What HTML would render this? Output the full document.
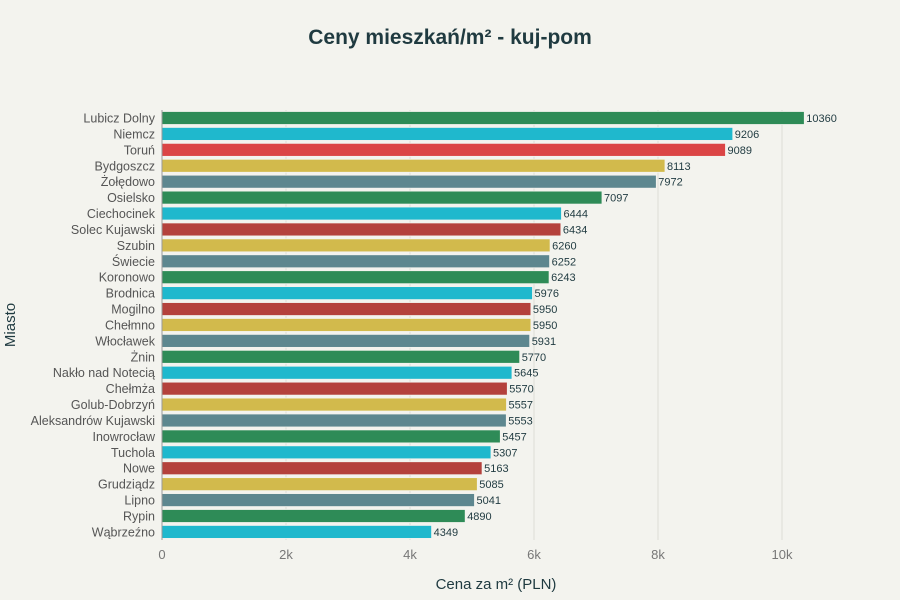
<!DOCTYPE html><html><head><meta charset="utf-8"><style>body{margin:0;background:#f3f3ee}svg{display:block;font-family:"Liberation Sans",sans-serif}</style></head><body>
<svg width="900" height="600" xmlns="http://www.w3.org/2000/svg">
<rect width="900" height="600" fill="#f3f3ee"/>
<text x="450" y="44" text-anchor="middle" font-size="21" font-weight="bold" fill="#1f3a40">Ceny mieszkań/m² - kuj-pom</text>
<g stroke="#dcdcd6" stroke-width="1">
<line x1="286" y1="110" x2="286" y2="540"/><line x1="410" y1="110" x2="410" y2="540"/><line x1="534" y1="110" x2="534" y2="540"/><line x1="658" y1="110" x2="658" y2="540"/><line x1="782" y1="110" x2="782" y2="540"/>
</g>
<g stroke="#f3f3ee" stroke-width="0.8">
<rect x="162" y="111.5" width="642.3" height="13" fill="#2e8b57"/>
<rect x="162" y="127.42" width="570.8" height="13" fill="#1fb8cd"/>
<rect x="162" y="143.34" width="563.5" height="13" fill="#db4545"/>
<rect x="162" y="159.26" width="503.0" height="13" fill="#d2ba4c"/>
<rect x="162" y="175.18" width="494.3" height="13" fill="#5d878f"/>
<rect x="162" y="191.1" width="440.0" height="13" fill="#2e8b57"/>
<rect x="162" y="207.02" width="399.5" height="13" fill="#1fb8cd"/>
<rect x="162" y="222.94" width="398.9" height="13" fill="#b4413c"/>
<rect x="162" y="238.86" width="388.1" height="13" fill="#d2ba4c"/>
<rect x="162" y="254.78" width="387.6" height="13" fill="#5d878f"/>
<rect x="162" y="270.7" width="387.1" height="13" fill="#2e8b57"/>
<rect x="162" y="286.62" width="370.5" height="13" fill="#1fb8cd"/>
<rect x="162" y="302.54" width="368.9" height="13" fill="#b4413c"/>
<rect x="162" y="318.46" width="368.9" height="13" fill="#d2ba4c"/>
<rect x="162" y="334.38" width="367.7" height="13" fill="#5d878f"/>
<rect x="162" y="350.3" width="357.7" height="13" fill="#2e8b57"/>
<rect x="162" y="366.22" width="350.0" height="13" fill="#1fb8cd"/>
<rect x="162" y="382.14" width="345.3" height="13" fill="#b4413c"/>
<rect x="162" y="398.06" width="344.5" height="13" fill="#d2ba4c"/>
<rect x="162" y="413.98" width="344.3" height="13" fill="#5d878f"/>
<rect x="162" y="429.9" width="338.3" height="13" fill="#2e8b57"/>
<rect x="162" y="445.82" width="329.0" height="13" fill="#1fb8cd"/>
<rect x="162" y="461.74" width="320.1" height="13" fill="#b4413c"/>
<rect x="162" y="477.66" width="315.3" height="13" fill="#d2ba4c"/>
<rect x="162" y="493.58" width="312.5" height="13" fill="#5d878f"/>
<rect x="162" y="509.5" width="303.2" height="13" fill="#2e8b57"/>
<rect x="162" y="525.42" width="269.6" height="13" fill="#1fb8cd"/>
</g>
<g font-size="12.5" fill="#555" text-anchor="end">
<text x="155" y="122.5">Lubicz Dolny</text>
<text x="155" y="138.42">Niemcz</text>
<text x="155" y="154.34">Toruń</text>
<text x="155" y="170.26">Bydgoszcz</text>
<text x="155" y="186.18">Żołędowo</text>
<text x="155" y="202.1">Osielsko</text>
<text x="155" y="218.02">Ciechocinek</text>
<text x="155" y="233.94">Solec Kujawski</text>
<text x="155" y="249.86">Szubin</text>
<text x="155" y="265.78">Świecie</text>
<text x="155" y="281.7">Koronowo</text>
<text x="155" y="297.62">Brodnica</text>
<text x="155" y="313.54">Mogilno</text>
<text x="155" y="329.46">Chełmno</text>
<text x="155" y="345.38">Włocławek</text>
<text x="155" y="361.3">Żnin</text>
<text x="155" y="377.22">Nakło nad Notecią</text>
<text x="155" y="393.14">Chełmża</text>
<text x="155" y="409.06">Golub-Dobrzyń</text>
<text x="155" y="424.98">Aleksandrów Kujawski</text>
<text x="155" y="440.9">Inowrocław</text>
<text x="155" y="456.82">Tuchola</text>
<text x="155" y="472.74">Nowe</text>
<text x="155" y="488.66">Grudziądz</text>
<text x="155" y="504.58">Lipno</text>
<text x="155" y="520.5">Rypin</text>
<text x="155" y="536.42">Wąbrzeźno</text>
</g>
<g font-size="11" fill="#1f3a40">
<text x="806.3" y="122">10360</text>
<text x="734.8" y="137.92">9206</text>
<text x="727.5" y="153.84">9089</text>
<text x="667" y="169.76">8113</text>
<text x="658.3" y="185.68">7972</text>
<text x="604" y="201.6">7097</text>
<text x="563.5" y="217.52">6444</text>
<text x="562.9" y="233.44">6434</text>
<text x="552.1" y="249.36">6260</text>
<text x="551.6" y="265.28">6252</text>
<text x="551.1" y="281.2">6243</text>
<text x="534.5" y="297.12">5976</text>
<text x="532.9" y="313.04">5950</text>
<text x="532.9" y="328.96">5950</text>
<text x="531.7" y="344.88">5931</text>
<text x="521.7" y="360.8">5770</text>
<text x="514" y="376.72">5645</text>
<text x="509.3" y="392.64">5570</text>
<text x="508.5" y="408.56">5557</text>
<text x="508.3" y="424.48">5553</text>
<text x="502.3" y="440.4">5457</text>
<text x="493" y="456.32">5307</text>
<text x="484.1" y="472.24">5163</text>
<text x="479.3" y="488.16">5085</text>
<text x="476.5" y="504.08">5041</text>
<text x="467.2" y="520">4890</text>
<text x="433.6" y="535.92">4349</text>
</g>
<line x1="162" y1="110" x2="162" y2="540" stroke="#999" stroke-width="1"/>
<g font-size="13" fill="#777" text-anchor="middle">
<text x="162" y="559">0</text><text x="286" y="559">2k</text><text x="410" y="559">4k</text><text x="534" y="559">6k</text><text x="658" y="559">8k</text><text x="782" y="559">10k</text>
</g>
<text x="496" y="589" text-anchor="middle" font-size="15" fill="#1f3a40">Cena za m² (PLN)</text>
<text transform="translate(15,325) rotate(-90)" text-anchor="middle" font-size="15" fill="#1f3a40">Miasto</text>
</svg></body></html>
